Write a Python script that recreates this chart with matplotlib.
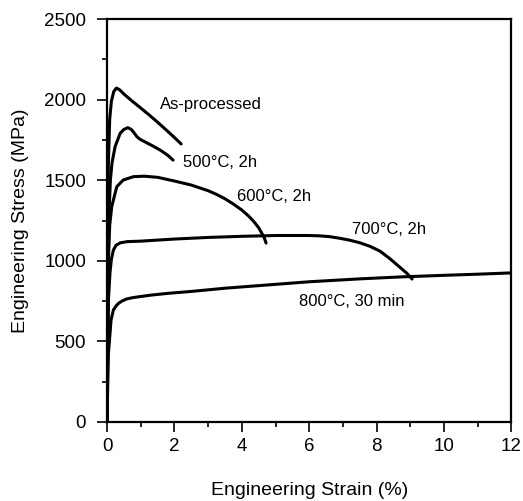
import matplotlib
matplotlib.use("Agg")
import matplotlib.pyplot as plt
from matplotlib.ticker import MultipleLocator

plt.rcParams['font.family'] = ['Liberation Sans', 'DejaVu Sans']

# values: strain (%) / stress (MPa)
asp_strain = [0, 0.04, 0.08, 0.13, 0.2, 0.28, 0.38, 0.5, 0.75, 1.0, 1.25, 1.5, 1.75, 2.0, 2.2]
asp_stress = [0, 1600, 1880, 1990, 2050, 2072, 2060, 2035, 1990, 1948, 1905, 1860, 1813, 1765, 1725]

t500_strain = [0, 0.05, 0.1, 0.15, 0.24, 0.39, 0.5, 0.62, 0.72, 0.8, 0.88, 0.97, 1.07, 1.2, 1.4, 1.6, 1.8, 1.96]
t500_stress = [0, 1250, 1500, 1610, 1708, 1791, 1815, 1826, 1815, 1795, 1772, 1755, 1744, 1730, 1708, 1684, 1655, 1625]

t600_strain = [0, 0.04, 0.08, 0.14, 0.29, 0.48, 0.78, 1.1, 1.5, 2.0, 2.5, 3.0, 3.25, 3.5, 3.75, 4.0, 4.2, 4.35, 4.5, 4.6, 4.67, 4.72]
t600_stress = [0, 1000, 1220, 1336, 1460, 1501, 1522, 1525, 1518, 1495, 1470, 1435, 1412, 1385, 1352, 1315, 1278, 1245, 1205, 1168, 1140, 1110]

t700_strain = [0, 0.04, 0.09, 0.13, 0.19, 0.27, 0.4, 0.6, 1.0, 2.0, 3.0, 4.0, 5.0, 6.0, 6.3, 6.6, 6.9, 7.2, 7.5, 7.8, 8.1, 8.4, 8.7, 8.9, 9.05]
t700_stress = [0, 750, 930, 1010, 1067, 1097, 1112, 1119, 1122, 1135, 1145, 1152, 1157, 1157, 1155, 1150, 1140, 1128, 1112, 1090, 1060, 1012, 958, 922, 887]

t800_strain = [0, 0.04, 0.09, 0.12, 0.19, 0.27, 0.34, 0.45, 0.58, 0.75, 0.98, 1.3, 1.8, 2.5, 3.5, 4.75, 6.0, 7.5, 8.7, 10.0, 11.0, 12.0]
t800_stress = [0, 420, 552, 633, 695, 720, 736, 751, 763, 771, 778, 787, 798, 810, 830, 850, 870, 888, 900, 910, 917, 925]

curves = [
    (asp_strain, asp_stress),
    (t500_strain, t500_stress),
    (t600_strain, t600_stress),
    (t700_strain, t700_stress),
    (t800_strain, t800_stress),
]

labels = ["As-processed", "500°C, 2h", "600°C, 2h", "700°C, 2h", "800°C, 30 min"]
label_x = [1.57, 2.25, 3.86, 7.27, 5.7]
label_y = [1970, 1607, 1402, 1197, 750]

fig = plt.figure(figsize=(5.23, 5.01), dpi=100)
ax = fig.add_axes([0.2046, 0.1577, 0.7734, 0.8043])

for s, st in curves:
    ax.plot(s, st, color="black", lw=2.2, solid_capstyle="round", solid_joinstyle="round")

for txt, x, y in zip(labels, label_x, label_y):
    ax.text(x, y, txt, fontsize=12, ha="left", va="center")

ax.set_xlim(0, 12)
ax.set_ylim(0, 2500)
ax.xaxis.set_major_locator(MultipleLocator(2))
ax.xaxis.set_minor_locator(MultipleLocator(1))
ax.yaxis.set_major_locator(MultipleLocator(500))
ax.yaxis.set_minor_locator(MultipleLocator(250))

ax.tick_params(which="major", direction="out", length=7, width=1.2, labelsize=13.5)
ax.tick_params(which="minor", direction="out", length=3.6, width=1.2)
ax.tick_params(axis="y", which="major", pad=8)
ax.tick_params(axis="x", which="major", pad=4.5)

for sp in ax.spines.values():
    sp.set_linewidth(1.6)

ax.set_xlabel("Engineering Strain (%)", fontsize=14)
ax.set_ylabel("Engineering Stress (MPa)", fontsize=14)
ax.xaxis.label.set_verticalalignment("center")
ax.yaxis.label.set_verticalalignment("center")
ax.xaxis.set_label_coords(0.5, -0.169)
ax.yaxis.set_label_coords(-0.215, 0.5)

fig.savefig("out.png", dpi=100)
